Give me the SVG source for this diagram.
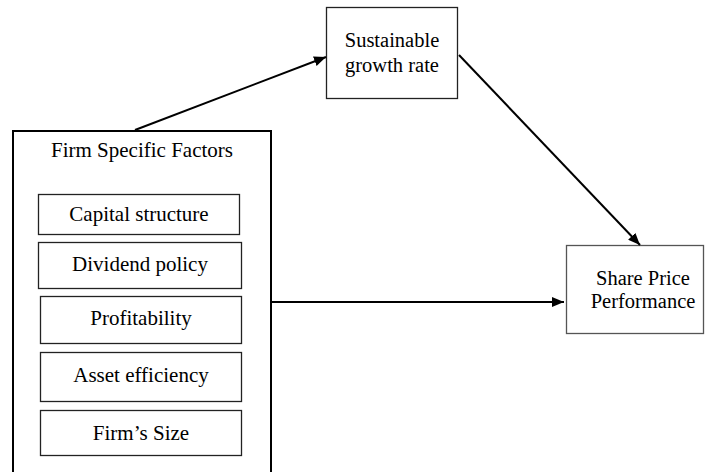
<svg xmlns="http://www.w3.org/2000/svg" width="705" height="472" viewBox="0 0 705 472">
<defs>
<style>
.t{font-family:'Liberation Serif','Times New Roman',Times,serif;font-size:21px;fill:#000;text-anchor:middle}
.s{font-size:20.5px}
.box{fill:#fff;stroke:#222;stroke-width:1.3}
.outer{fill:#fff;stroke:#000;stroke-width:2}
.conn{stroke:#000;stroke-width:2;fill:none}
</style>
<marker id="ah" viewBox="0 0 12 10" refX="12" refY="5" markerWidth="12" markerHeight="10" markerUnits="userSpaceOnUse" orient="auto">
<path d="M0,0 L12,5 L0,10 Z" fill="#000"/>
</marker>
</defs>
<rect width="705" height="472" fill="#fff"/>
<g id="firm-specific-factors">
<rect class="outer" x="13" y="131" width="258" height="350"/>
<text class="t" x="142" y="157" font-family="Liberation Serif, serif">Firm Specific Factors</text>
</g>
<g id="capital-structure">
<rect class="box" x="38.5" y="194.5" width="201" height="40"/>
<text class="t" x="139" y="221" font-family="Liberation Serif, serif">Capital structure</text>
</g>
<g id="dividend-policy">
<rect class="box" x="38.5" y="242.5" width="203" height="46"/>
<text class="t" x="140" y="271" font-family="Liberation Serif, serif">Dividend policy</text>
</g>
<g id="profitability">
<rect class="box" x="40.5" y="296.5" width="201" height="47"/>
<text class="t" x="141" y="325" font-family="Liberation Serif, serif">Profitability</text>
</g>
<g id="asset-efficiency">
<rect class="box" x="40.5" y="352.5" width="201" height="49"/>
<text class="t" x="141" y="382" font-family="Liberation Serif, serif">Asset efficiency</text>
</g>
<g id="firms-size">
<rect class="box" x="40.5" y="410.5" width="201" height="45"/>
<text class="t" x="141" y="440" font-family="Liberation Serif, serif">Firm’s Size</text>
</g>
<g id="sustainable-growth-rate">
<rect class="box" x="326.5" y="7.5" width="131" height="91"/>
<text class="t s" x="392" y="47" font-family="Liberation Serif, serif">Sustainable</text>
<text class="t s" x="392" y="72" font-family="Liberation Serif, serif">growth rate</text>
</g>
<g id="share-price-performance">
<rect class="box" x="566.5" y="245.5" width="137" height="88" style="stroke:#555"/>
<text class="t s" x="643" y="285" font-family="Liberation Serif, serif">Share Price</text>
<text class="t s" x="643" y="308" font-family="Liberation Serif, serif">Performance</text>
</g>
<g id="connectors">
<line class="conn" x1="135" y1="130" x2="326" y2="57" marker-end="url(#ah)"/>
<line class="conn" x1="459" y1="55" x2="640" y2="245" marker-end="url(#ah)"/>
<line class="conn" x1="272" y1="302" x2="564" y2="302" marker-end="url(#ah)"/>
</g>
</svg>
